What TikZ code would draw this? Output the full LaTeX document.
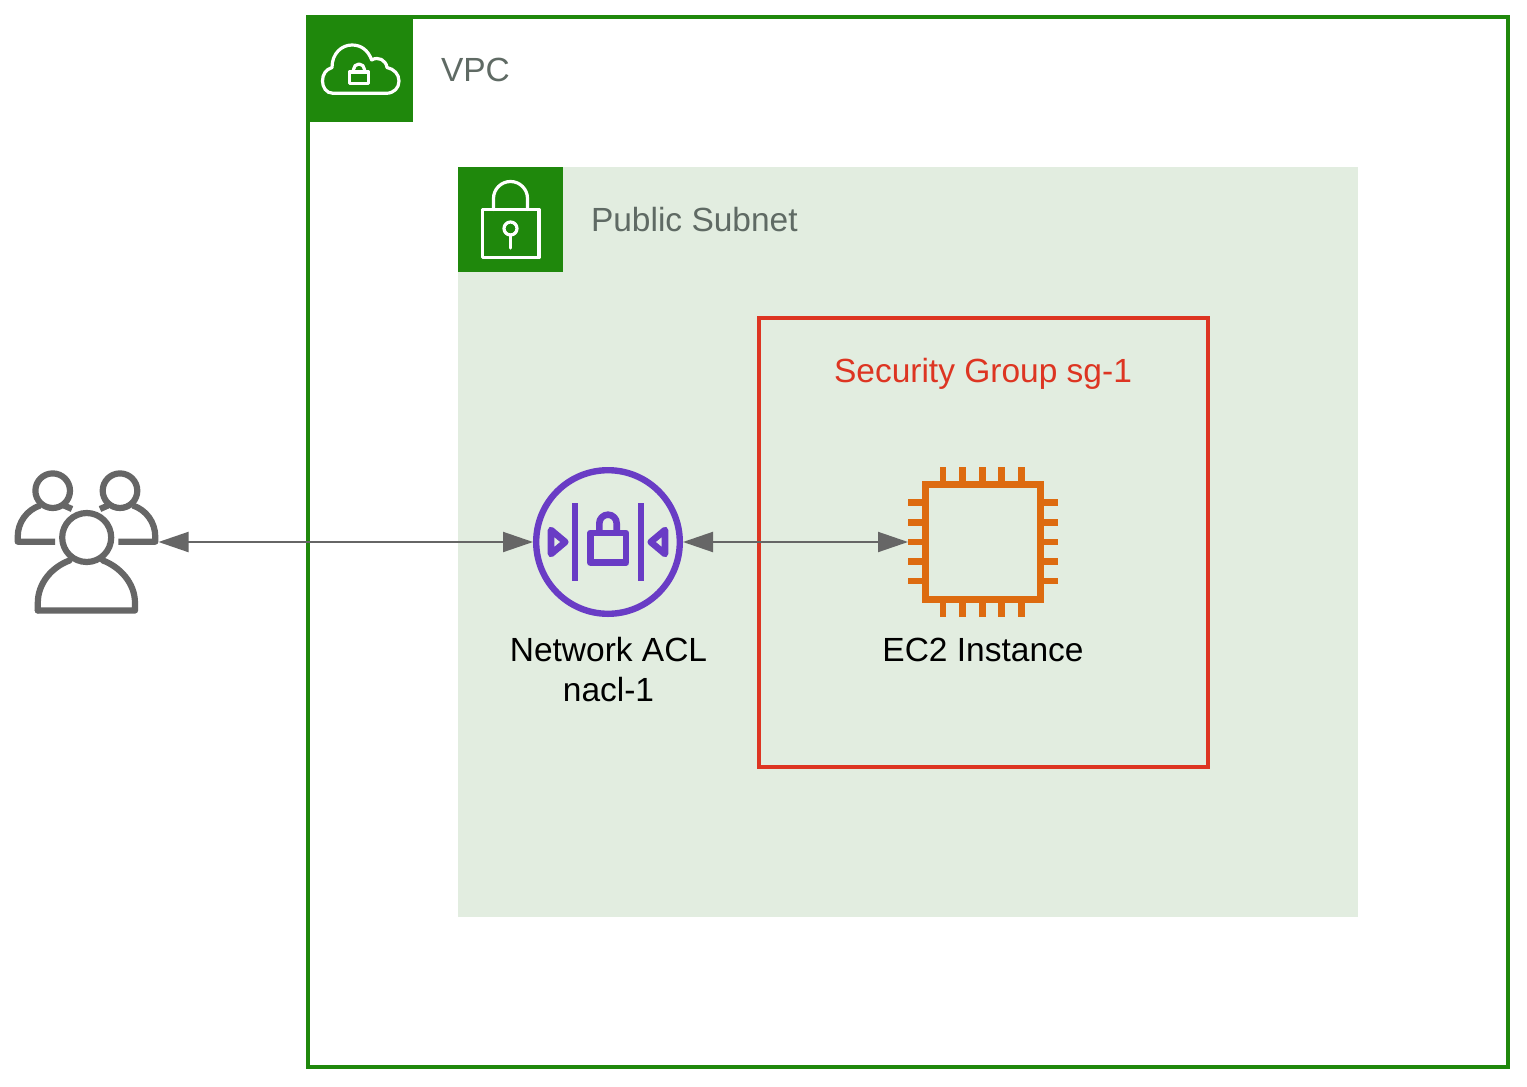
\documentclass[tikz,border=0pt]{standalone}
\usepackage{fontspec}
\setmainfont{Liberation Sans}
\usetikzlibrary{arrows.meta}
\definecolor{awsgreen}{HTML}{1F880C}
\definecolor{subnetbg}{HTML}{E2EDE0}
\definecolor{sgred}{HTML}{DD3522}
\definecolor{naclpurple}{HTML}{693CC5}
\definecolor{ec2orange}{HTML}{DD6B10}
\definecolor{usergrey}{HTML}{666666}
\definecolor{labelgrey}{HTML}{5F6A64}
\tikzset{
  txt/.style={inner sep=0pt,outer sep=0pt,font=\fontsize{33.5}{40.5}\selectfont},
  anchorbox/.style={inner sep=0pt,outer sep=0pt,draw=none,minimum width=#1,minimum height=#1},
  conn/.style={draw=usergrey,line width=2pt,{Triangle[length=30pt,width=20pt]}-{Triangle[length=30pt,width=20pt]}},
  whiteicon/.style={draw=white,line width=3.2pt,line join=round,line cap=round},
  purpleicon/.style={draw=naclpurple,line width=6.6pt,line join=round},
  pin/.style={draw=ec2orange,line width=6.8pt},
  person/.style={draw=usergrey,line width=6.2pt,line join=round,line cap=round}
}
\begin{document}
\begin{tikzpicture}[x=1pt,y=-1pt]
\useasboundingbox (0,0) rectangle (1527,1087);
\fill[white] (0,0) rectangle (1527,1087);
% VPC
\node[draw=awsgreen,line width=4pt,inner sep=0pt,minimum width=1200pt,minimum height=1050pt,anchor=north west] (vpc) at (306,15) {};
\fill[awsgreen] (306,15) rectangle (413,122);
\draw[whiteicon] (333,93.3) .. controls (326,93.3) and (322.5,87) .. (322.5,81)
  .. controls (322.5,74) and (326,69.5) .. (332,67.5)
  .. controls (332,53) and (342,45) .. (352,45)
  .. controls (361,45) and (368,50) .. (371.7,60)
  .. controls (378,56) and (386,60) .. (387,67.5)
  .. controls (394,69) and (399,74) .. (399,81)
  .. controls (399,88) and (394,93.3) .. (386,93.3) -- cycle;
\draw[whiteicon] (349.5,72) rectangle (368.5,83.5);
\draw[whiteicon] (353.5,72) -- (353.5,69.5) arc[start angle=180,end angle=360,radius=5.5] -- (364.5,72);
\node[txt,text=labelgrey,anchor=base west] (vpclabel) at (441,81) {VPC};
% Subnet
\node[fill=subnetbg,inner sep=0pt,minimum width=900pt,minimum height=750pt,anchor=north west] (subnet) at (458,167) {};
\fill[awsgreen] (458,167) rectangle (563,272);
\draw[whiteicon] (482.5,209.5) rectangle (539,257.5);
\draw[whiteicon] (493.5,209.5) -- (493.5,198.5) arc[start angle=180,end angle=360,radius=17] -- (527.5,209.5);
\draw[whiteicon] (510.5,228.5) circle[radius=6.5];
\draw[whiteicon] (510.5,235) -- (510.5,248);
\node[txt,text=labelgrey,anchor=base west] (subnetlabel) at (591,231) {Public Subnet};
% Security group
\node[draw=sgred,line width=4pt,inner sep=0pt,minimum width=449pt,minimum height=449pt,anchor=north west] (sg) at (756.5,315.5) {};
\node[txt,text=sgred,anchor=base] (sglabel) at (983,382) {Security Group sg-1};
% Users
\node[anchorbox=144pt] (users) at (86.5,542) {};
\draw[person] (86.7,537.5) circle[radius=24.5];
\draw[person] (37.8,610.5) -- (135,610.5) -- (135,603)
  .. controls (135,583) and (120,567) .. (103,560.5);
\draw[person] (37.8,610.5) -- (37.8,603)
  .. controls (37.8,583) and (52,567) .. (69.5,560.5);
\draw[person] (52.7,490.7) circle[radius=17.3];
\draw[person] (120,490.7) circle[radius=17.3];
\draw[person,line cap=butt] (55,541.7) -- (17.7,541.7) -- (17.7,537) .. controls (17.7,522) and (27,510) .. (40,505.5);
\draw[person,line cap=butt] (64,505.5) -- (72,509);
\draw[person,line cap=butt] (118.3,541.7) -- (155.3,541.7) -- (155.3,537) .. controls (155.3,522) and (146,510) .. (133,505.5);
\draw[person,line cap=butt] (108,505.5) -- (100,509);
% NACL
\node[circle,draw=naclpurple,line width=6.4pt,minimum size=143.6pt,inner sep=0pt,outer sep=3.2pt] (nacl) at (608,542) {};
\draw[purpleicon] (575,503.3) -- (575,580.7);
\draw[purpleicon] (641,503.3) -- (641,580.7);
\draw[purpleicon] (590.3,533) rectangle (626,562.7);
\draw[purpleicon] (599.3,533) -- (599.3,523.4) arc[start angle=180,end angle=360,radius=8.7] -- (616.7,533);
\draw[purpleicon] (551,530) -- (565.3,542) -- (551,554) -- cycle;
\draw[purpleicon] (665,530) -- (650.7,542) -- (665,554) -- cycle;
\node[txt,align=center,anchor=north] (nacllabel) at (608.5,637) {Network ACL\\nacl-1};
% EC2
\node[draw=ec2orange,line width=6.8pt,inner sep=0pt,minimum width=114.6pt,minimum height=114.6pt,outer sep=0pt] (chip) at (983,542) {};
\foreach \p in {943,962.7,982.5,1001.7,1021.3}{
  \draw[pin] (\p,467) -- (\p,482);
  \draw[pin] (\p,602) -- (\p,617);
}
\foreach \p in {502.7,522.3,542,561.7,581}{
  \draw[pin] (908,\p) -- (923,\p);
  \draw[pin] (1043,\p) -- (1058,\p);
}
\node[anchorbox=150pt] (ec2) at (983,542) {};
\node[txt,anchor=base] (ec2label) at (983,661) {EC2 Instance};
% Connectors
\draw[conn] (users.east) -- (nacl.west);
\draw[conn] (nacl.east) -- (ec2.west);
\end{tikzpicture}
\end{document}
